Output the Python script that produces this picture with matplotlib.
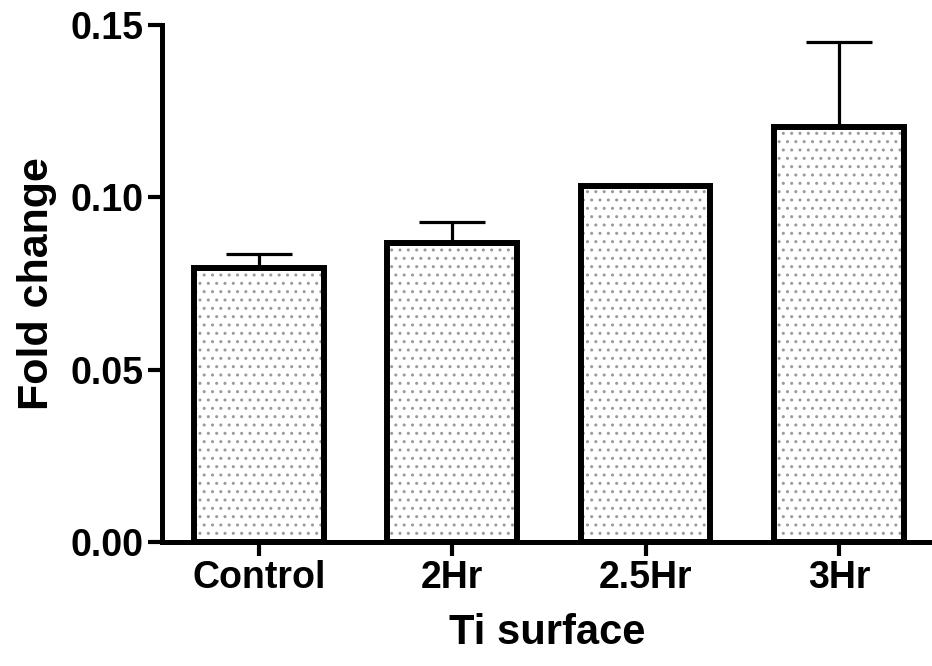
import numpy as np
import matplotlib.pyplot as plt

plt.rcParams['font.family'] = ['Liberation Sans', 'DejaVu Sans']
plt.rcParams['font.weight'] = 'bold'
plt.rcParams['hatch.linewidth'] = 1.0

groups = ['Control', '2Hr', '2.5Hr', '3Hr']
fold_change = [0.0795, 0.0867, 0.1032, 0.1205]
sem = [0.0040, 0.0060, 0.0, 0.0245]

fig = plt.figure(figsize=(9.32, 6.66), dpi=100)
ax = fig.add_axes([162 / 932, 124 / 666, 770 / 932, 517 / 666])

x = np.arange(len(groups))
w = 0.67

# dotted fill first, then the thick outline on top
ax.bar(x, fold_change, width=w, color='white', edgecolor='#9a9a9a',
       hatch='..', linewidth=0, zorder=2)
ax.bar(x, fold_change, width=w, fill=False, edgecolor='black',
       linewidth=4.3, zorder=3)
ax.errorbar(x, fold_change, yerr=[np.zeros(len(sem)), sem], fmt='none',
            ecolor='black', elinewidth=2.3, capsize=24, capthick=2.3, zorder=1)

ax.set_xlim(-0.5, 3.48)
ax.set_ylim(0, 0.15)
ax.set_yticks([0.00, 0.05, 0.10, 0.15])
ax.set_yticklabels(['0.00', '0.05', '0.10', '0.15'])
ax.set_xticks(x)
ax.set_xticklabels(groups)

for s in ['top', 'right']:
    ax.spines[s].set_visible(False)
for s in ['left', 'bottom']:
    ax.spines[s].set_linewidth(3.6)

ax.tick_params(axis='both', width=3, length=10, labelsize=27, pad=3)
ax.set_xlabel('Ti surface', fontsize=30, fontweight='bold', labelpad=12)
ax.set_ylabel('Fold change', fontsize=31, fontweight='bold', labelpad=10)

fig.savefig('out.png', dpi=100)
